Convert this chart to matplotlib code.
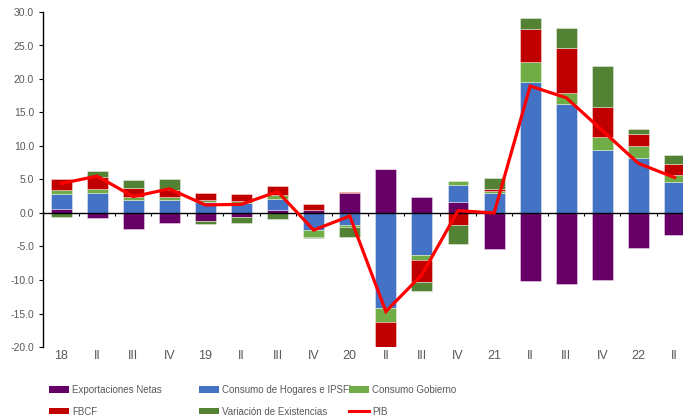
import numpy as np
import matplotlib
matplotlib.use('Agg')
import matplotlib.pyplot as plt
from matplotlib.patches import Patch
from matplotlib.lines import Line2D

plt.rcParams['font.family'] = ['Liberation Sans', 'DejaVu Sans']

# trimestres 2018-2022
trimestres = ['18', 'II', 'III', 'IV', '19', 'II', 'III', 'IV', '20', 'II', 'III', 'IV',
              '21', 'II', 'III', 'IV', '22', 'II']

# contribuciones al crecimiento (p.p.)
export_netas = [0.65, -0.8, -2.45, -1.45, -1.2, -0.6, 0.5, 0.4, 3.0, 6.6, 2.35, 1.65,
                -5.35, -10.2, -10.55, -9.95, -5.2, -3.35]
cons_hogares = [2.25, 3.0, 2.0, 2.0, 1.65, 1.45, 1.65, -2.55, -1.8, -14.2, -6.3, 2.55,
                2.95, 19.6, 16.3, 9.4, 8.25, 4.6]
cons_gobierno = [0.55, 0.55, 0.4, 0.35, 0.25, 0.3, 0.55, -1.0, -0.35, -2.05, -0.7, 0.65,
                 0.4, 2.9, 1.55, 1.95, 1.8, 1.05]
fbcf = [1.55, 1.75, 1.4, 1.15, 1.05, 1.15, 1.35, 0.9, 0.15, -3.75, -3.3, -1.85,
        0.25, 4.9, 6.85, 4.5, 1.75, 1.6]
var_existencias = [-0.6, 1.0, 1.1, 1.55, -0.45, -0.9, -0.9, -0.25, -1.5, 0.0, -1.35, -2.75,
                   1.65, 1.65, 2.95, 6.1, 0.8, 1.45]
pib = [4.4, 5.5, 2.45, 3.6, 1.2, 1.3, 3.2, -2.55, -0.45, -14.7, -9.2, 0.35,
       0.0, 18.95, 17.2, 12.3, 7.4, 5.3]

series = [
    ('Exportaciones Netas', export_netas, '#660066'),
    ('Consumo de Hogares e IPSFL', cons_hogares, '#4472C4'),
    ('Consumo Gobierno', cons_gobierno, '#70AD47'),
    ('FBCF', fbcf, '#C00000'),
    ('Variación de Existencias', var_existencias, '#548235'),
]

gris = '#595959'
W, H = 683, 418
fig = plt.figure(figsize=(W / 100, H / 100), dpi=100)
ax = fig.add_axes([43 / W, 1 - 347 / H, 649.6 / W, 335 / H])

x = np.arange(len(trimestres))
pos = np.zeros(len(x))
neg = np.zeros(len(x))
for nombre, vals, col in series:
    v = np.array(vals)
    base = np.where(v >= 0, pos, neg)
    ax.bar(x, v, 0.58, bottom=base, color=col, edgecolor=(1, 1, 1, 0.45),
           linewidth=0.6, zorder=2)
    pos = pos + np.clip(v, 0, None)
    neg = neg + np.clip(v, None, 0)

ax.plot(x, pib, color='#FF0000', lw=2.3, zorder=4, solid_joinstyle='miter')

ax.set_xlim(-0.5, len(x) - 0.5)
ax.set_ylim(-20, 30)
ax.set_yticks(np.arange(-20, 31, 5))
ax.yaxis.set_major_formatter(matplotlib.ticker.FormatStrFormatter('%.1f'))
ax.tick_params(axis='y', direction='out', length=2.9, width=0.8, pad=3.5,
               labelsize=7.5, labelcolor=gris)

# eje horizontal en el cero con marcas entre trimestres
for s in ['top', 'right']:
    ax.spines[s].set_visible(False)
ax.spines['bottom'].set_position(('data', 0))
ax.spines['bottom'].set_linewidth(1.0)
ax.spines['left'].set_linewidth(1.0)
ax.spines['bottom'].set_zorder(3)
ax.set_xticks(x[:-1] + 0.5)
ax.tick_params(axis='x', direction='out', length=2.5, width=0.8, labelbottom=False)

sec = ax.secondary_xaxis('bottom')
sec.set_xticks(x, trimestres)
sec.tick_params(length=0, pad=2.5, labelsize=9, labelcolor=gris)
sec.spines['bottom'].set_visible(False)

# leyenda en tres columnas de igual ancho
h = {n: Patch(facecolor=c, edgecolor='none') for n, _, c in series}
h['PIB'] = Line2D([], [], color='#FF0000', lw=2.2)
columnas = [['Exportaciones Netas', 'FBCF'],
            ['Consumo de Hogares e IPSFL', 'Variación de Existencias'],
            ['Consumo Gobierno', 'PIB']]
for i, col in enumerate(columnas):
    fig.legend([h[n] for n in col], col, loc='upper left',
               bbox_to_anchor=((49 + 150 * i) / W, 1 - 385 / H),
               frameon=False, fontsize=7, labelcolor=gris, borderpad=0,
               borderaxespad=0, handlelength=2.1, handleheight=0.65,
               handletextpad=0.3, labelspacing=1.2)

fig.savefig('out.png', dpi=100)
